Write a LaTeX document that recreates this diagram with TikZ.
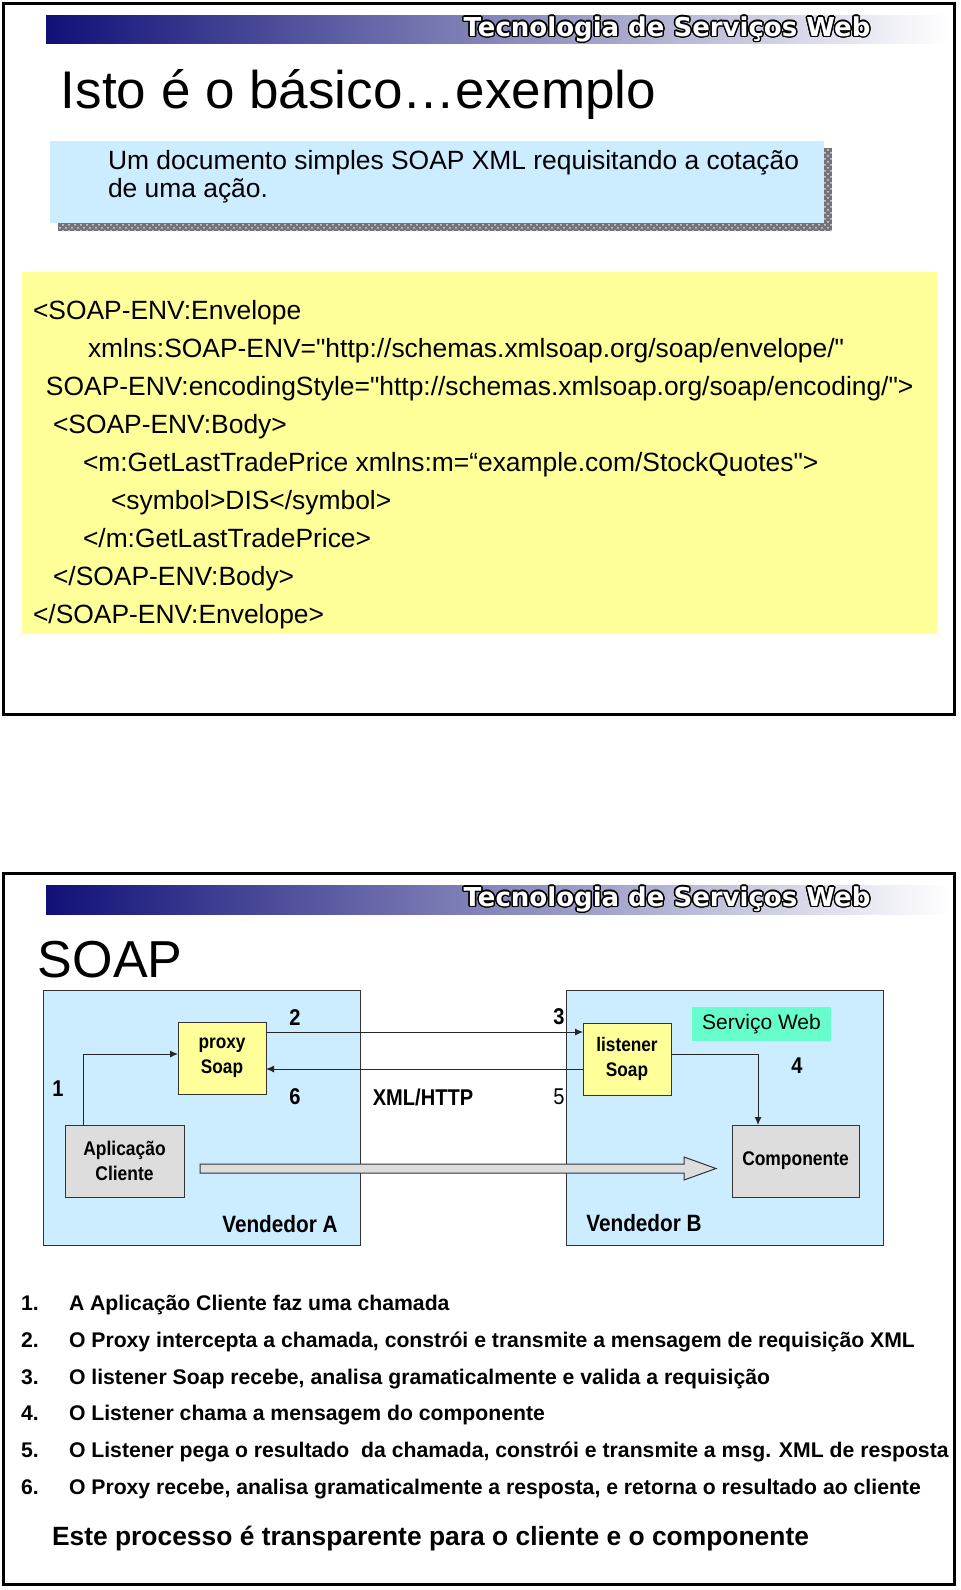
\documentclass[tikz,border=0pt]{standalone}
\usepackage{fontspec}
\setmainfont{Liberation Sans}[Ligatures=TeXOff]
\newfontfamily\narrowfont{Liberation Sans}[FakeStretch=0.88]
\newfontfamily\logofont{DejaVu Sans}
\usepackage{contour}
\contourlength{0.7pt}
\usetikzlibrary{arrows.meta,patterns}

\definecolor{paleblue}{RGB}{204,236,255}
\definecolor{codeyellow}{RGB}{255,255,153}
\definecolor{aqua}{RGB}{102,255,204}
\definecolor{lightgrey}{RGB}{221,221,221}
\definecolor{navy}{RGB}{16,16,120}

\tikzstyle{every node}=[inner sep=0pt, outer sep=0pt]
\tikzstyle{slideframe}=[line width=1.5pt]
\tikzstyle{topbar}=[left color=navy, right color=white]
\tikzset{
  logotext/.style={text=white, font=\logofont\bfseries\fontsize{13}{15}\selectfont},
  slidetitle/.style={anchor=base west, font=\fontsize{26}{31}\selectfont},
  codeline/.style={anchor=base west, font=\fontsize{13.2}{16}\selectfont},
  listitem/.style={anchor=base west, font=\fontsize{10.6}{13}\selectfont\bfseries},
  soapbox/.style={draw=black!80, fill=codeyellow, align=center, minimum width=44pt,
    minimum height=36pt, font=\narrowfont\fontsize{9.8}{12.5}\selectfont\bfseries},
  greybox/.style={draw=black!80, fill=lightgrey, align=center, minimum height=36pt,
    font=\narrowfont\fontsize{9.9}{12.5}\selectfont\bfseries},
  vendor/.style={draw=black!80, fill=paleblue, minimum width=158.5pt, minimum height=127.5pt},
  numlabel/.style={font=\narrowfont\fontsize{11.4}{13}\selectfont\bfseries},
  flow/.style={draw=black!85, line width=0.5pt, -{Latex[length=4pt,width=3.5pt]}},
  bigarrow/.style={draw=black!80, fill=lightgrey, line width=0.5pt}
}

\begin{document}
\begin{tikzpicture}[x=0.5pt,y=-0.5pt]
  \useasboundingbox (0,0) rectangle (960,1590);
  \fill[white] (0,0) rectangle (960,1590);

  % first slide
  \draw[slideframe] (3,3) rectangle (954,714);
  \shade[topbar] (46,15) rectangle (950,43);
  \node[logotext] (logoA) at (667,30) {\contour{black}{Tecnologia de Serviços Web}};
  \node[slidetitle, font=\fontsize{26.5}{31}\selectfont] (title) at (61,108) {Isto é o básico…exemplo};
  \fill[black!55] (58,148) rectangle (832,231);
  \fill[pattern=crosshatch dots, pattern color=white!85!blue] (58,148) rectangle (832,231);
  \fill[paleblue] (50,141) rectangle (824,223);
  \node[codeline] (introA) at (108,169) {Um documento simples SOAP XML requisitando a cotação};
  \node[codeline] (introB) at (108,197) {de uma ação.};
  \fill[codeyellow] (22,272) rectangle (937,634);
  \node[codeline] (c1) at (33,319) {<SOAP-ENV:Envelope};
  \node[codeline] (c2) at (88,357) {xmlns:SOAP-ENV="http://schemas.xmlsoap.org/soap/envelope/"};
  \node[codeline] (c3) at (46,395) {SOAP-ENV:encodingStyle="http://schemas.xmlsoap.org/soap/encoding/">};
  \node[codeline] (c4) at (53,433) {<SOAP-ENV:Body>};
  \node[codeline] (c5) at (83,471) {<m:GetLastTradePrice xmlns:m=“example.com/StockQuotes">};
  \node[codeline] (c6) at (111,509) {<symbol>DIS</symbol>};
  \node[codeline] (c7) at (83,547) {</m:GetLastTradePrice>};
  \node[codeline] (c8) at (53,585) {</SOAP-ENV:Body>};
  \node[codeline] (c9) at (33,623) {</SOAP-ENV:Envelope>};

  % second slide
  \draw[slideframe] (3,873) rectangle (954,1584);
  \shade[topbar] (46,885) rectangle (950,914);
  \node[logotext] (logoB) at (667,900) {\contour{black}{Tecnologia de Serviços Web}};
  \node[slidetitle] (soap) at (38,977) {SOAP};

  \node[vendor] (vendA) at (201.5,1117.5) {};
  \node[vendor] (vendB) at (724.5,1117.5) {};
  \node[soapbox] (proxy) at (222,1058) {proxy\\Soap};
  \node[soapbox] (listener) at (627,1059) {listener\\Soap};
  \node[greybox, minimum width=59.5pt] (client) at (124.5,1161) {Aplicação\\Cliente};
  \node[greybox, minimum width=63.5pt] (component) at (795.5,1161) {Componente};
  \node[fill=aqua, minimum width=69.5pt, minimum height=17pt,
    font=\fontsize{10.5}{12}\selectfont] (ws) at (761.5,1024) {Serviço Web};

  \node[numlabel] (n1) at (58,1089) {1};
  \node[numlabel] (n2) at (295,1018) {2};
  \node[numlabel] (n3) at (559,1017) {3};
  \node[numlabel] (n4) at (797,1066) {4};
  \node[numlabel, font=\narrowfont\fontsize{11.4}{13}\selectfont] (n5) at (559,1097) {5};
  \node[numlabel] (n6) at (295,1097) {6};
  \node[numlabel] (xml) at (423,1097) {XML/HTTP};
  \node[numlabel, font=\narrowfont\fontsize{11.8}{13}\selectfont\bfseries] (vA) at (280,1224) {Vendedor A};
  \node[numlabel, font=\narrowfont\fontsize{11.8}{13}\selectfont\bfseries] (vB) at (644,1223) {Vendedor B};

  \draw[flow] ([xshift=9pt]client.north west) |- ([yshift=2pt]proxy.west);
  \draw[flow] ([yshift=13pt]proxy.east) -- ([yshift=13pt]proxy.east -| listener.west);
  \draw[flow] ([yshift=-5pt]listener.west) -- ([yshift=-5pt]listener.west -| proxy.east);
  \draw[flow] ([yshift=2.5pt]listener.east) -| ([xshift=-18.75pt]component.north);

  % wide arrow under the boxes
  \coordinate (bigS) at ([xshift=8pt,yshift=-3.75pt]client.east);
  \coordinate (bigT) at ([xshift=-8pt,yshift=-3.75pt]component.west);
  \draw[bigarrow] ([yshift=2.25pt]bigS) -- ([xshift=-16pt,yshift=2.25pt]bigT)
    -- ([xshift=-16pt,yshift=5.75pt]bigT) -- (bigT)
    -- ([xshift=-16pt,yshift=-5.75pt]bigT) -- ([xshift=-16pt,yshift=-2.25pt]bigT)
    -- ([yshift=-2.25pt]bigS) -- cycle;

  % steps
  \node[listitem] (s1) at (21,1310) {1.};
  \node[listitem] (t1) at (69,1310) {A Aplicação Cliente faz uma chamada};
  \node[listitem] (s2) at (21,1347) {2.};
  \node[listitem] (t2) at (69,1347) {O Proxy intercepta a chamada, constrói e transmite a mensagem de requisição XML};
  \node[listitem] (s3) at (21,1384) {3.};
  \node[listitem] (t3) at (69,1384) {O listener Soap recebe, analisa gramaticalmente e valida a requisição};
  \node[listitem] (s4) at (21,1420) {4.};
  \node[listitem] (t4) at (69,1420) {O Listener chama a mensagem do componente};
  \node[listitem] (s5) at (21,1457) {5.};
  \node[listitem] (t5) at (69,1457) {O Listener pega o resultado\ \ da chamada, constrói e transmite a msg. XML de resposta};
  \node[listitem] (s6) at (21,1494) {6.};
  \node[listitem] (t6) at (69,1494) {O Proxy recebe, analisa gramaticalmente a resposta, e retorna o resultado ao cliente};
  \node[listitem, font=\fontsize{13.2}{16}\selectfont\bfseries] (note) at (52,1545) {Este processo é transparente para o cliente e o componente};
\end{tikzpicture}
\end{document}
